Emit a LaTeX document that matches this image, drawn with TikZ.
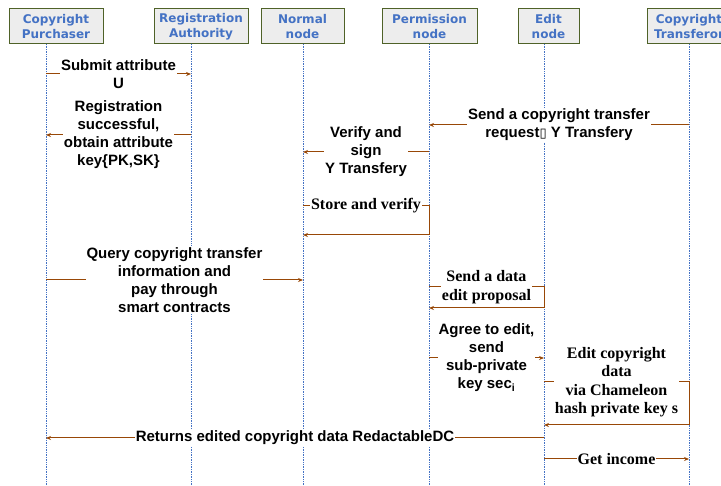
\documentclass[tikz,border=0pt]{standalone}
\usepackage{fontspec}
\setmainfont{Liberation Serif}
\setsansfont{Liberation Sans}
\newfontfamily\headfont{DejaVu Sans}
\newfontfamily\glyphfont{DejaVu Sans}
\usepackage{xcolor}
\usetikzlibrary{arrows.meta}
\definecolor{SeqHeadFill}{RGB}{237, 237, 237}
\definecolor{SeqHeadBorder}{RGB}{79, 98, 40}
\definecolor{SeqHeadText}{RGB}{68, 114, 196}
\definecolor{SeqLifeline}{RGB}{68, 114, 196}
\definecolor{SeqMessage}{RGB}{152, 72, 7}

\tikzset{
    actor/.style={fill=SeqHeadFill, draw=SeqHeadBorder, line width=1pt,
        minimum height=35pt, inner sep=0pt, align=center, text=SeqHeadText,
        font=\headfont\bfseries\fontsize{12}{15}\selectfont},
    lifeline/.style={SeqLifeline, densely dotted, line width=0.7pt},
    message/.style={SeqMessage, line width=1pt, -{Stealth[length=5pt,width=4pt]}},
    sanslabel/.style={fill=white, text=black, inner sep=1pt, align=center,
        font=\sffamily\bfseries\fontsize{15}{18}\selectfont},
    seriflabel/.style={fill=white, text=black, inner sep=1pt, align=center,
        font=\rmfamily\bfseries\fontsize{16}{18.5}\selectfont}
}

\begin{document}
\begin{tikzpicture}[x=1pt, y=-1pt]
    \useasboundingbox (0,0) rectangle (721,486);

    % Actors along the top
    \node[actor, minimum width=94pt] (purchaser) at (56,26.5) {Copyright\\Purchaser};
    \node[actor, minimum width=94pt] (authority) at (201,26.5) {Registration\\Authority};
    \node[actor, minimum width=83pt] (normal) at (302.5,26.5) {Normal\\node};
    \node[actor, minimum width=95pt] (permission) at (429.5,26.5) {Permission\\node};
    \node[actor, minimum width=61pt] (edit) at (548.5,26.5) {Edit\\node};
    \node[actor, minimum width=84pt] (transferor) at (689,26.5) {Copyright\\Transferor};

    % Lifelines
    \coordinate (lPurchaser) at (46,44);
    \coordinate (lAuthority) at (191,44);
    \coordinate (lNormal) at (303,44);
    \coordinate (lPermission) at (429,44);
    \coordinate (lEdit) at (544,44);
    \coordinate (lTransferor) at (689,44);
    \foreach \l in {lPurchaser, lAuthority, lNormal, lPermission, lEdit, lTransferor}
        \draw[lifeline] (\l) -- (\l |- 0,486);

    % Registration of the purchaser
    \draw[message] (lPurchaser |- 0,74) -- node[sanslabel] {Submit attribute\\U} (lAuthority |- 0,74);
    \draw[message] (lAuthority |- 0,135) -- node[sanslabel] {Registration\\successful,\\obtain attribute\\key\{PK,SK\}} (lPurchaser |- 0,135);

    % Transfer request and signing
    \draw[message] (lTransferor |- 0,125) -- node[sanslabel] {Send a copyright transfer\\request{\glyphfont\fontsize{13}{15}\selectfont\mdseries ▯} Y Transfery} (lPermission |- 0,125);
    \draw[message] (lPermission |- 0,152) -- node[sanslabel] {Verify and\\sign\\Y Transfery} (lNormal |- 0,152);
    \draw[message] (lNormal |- 0,206) -- node[seriflabel] {Store and verify} (lPermission |- 0,206)
        -- (lPermission |- 0,235) -- (lNormal |- 0,235);

    % Query and payment
    \draw[message] (lPurchaser |- 0,280) -- node[sanslabel] {Query copyright transfer\\information and\\pay through\\smart contracts} (lNormal |- 0,280);

    % Editing the copyright data
    \draw[message] (lPermission |- 0,287) -- node[seriflabel] {Send a data\\edit proposal} (lEdit |- 0,287)
        -- (lEdit |- 0,308) -- (lPermission |- 0,308);
    \draw[message] (lPermission |- 0,358) -- node[sanslabel] {Agree to edit,\\send\\sub-private\\key sec\textsubscript{i}} (lEdit |- 0,358);
    \draw[message] (lEdit |- 0,382) -- node[seriflabel] {Edit copyright\\data\\via Chameleon\\hash private key s} (lTransferor |- 0,382)
        -- (lTransferor |- 0,425) -- (lEdit |- 0,425);

    % Result and income
    \draw[message] (lEdit |- 0,438) -- node[sanslabel] {Returns edited copyright data RedactableDC} (lPurchaser |- 0,438);
    \draw[message] (lEdit |- 0,459) -- node[seriflabel] {Get income} (lTransferor |- 0,459);
\end{tikzpicture}
\end{document}
